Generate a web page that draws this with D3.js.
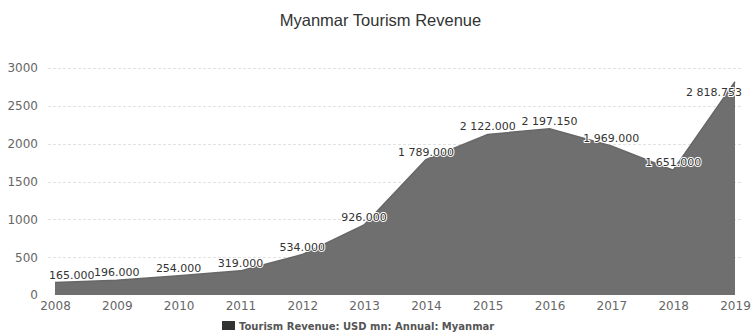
<!DOCTYPE html>
<html>
<head>
<meta charset="utf-8">
<script src="https://cdn.jsdelivr.net/npm/d3@7/dist/d3.min.js"></script>
<style>
  html, body { margin: 0; padding: 0; background: #fff; }
  svg { display: block; }
</style>
</head>
<body>
<svg id="chart" width="751" height="336"></svg>
<script>
// Myanmar tourism revenue, USD mn, annual
const years = [2008, 2009, 2010, 2011, 2012, 2013, 2014, 2015, 2016, 2017, 2018, 2019];
const revenue = [165, 196, 254, 319, 534, 926, 1789, 2122, 2197.15, 1969, 1651, 2818.753];
const yTicks = [0, 500, 1000, 1500, 2000, 2500, 3000];
const titleText = "Myanmar Tourism Revenue";
const seriesName = "Tourism Revenue: USD mn: Annual: Myanmar";

const svg = d3.select("#chart");
const plot = { left: 48, right: 742, top: 68, bottom: 295 };

const x = d3.scaleLinear().domain([years[0], years[years.length - 1]]).range([55, 735]);
const y = d3.scaleLinear().domain([0, 3000]).range([plot.bottom, plot.top]);

const fontLabel = "'DejaVu Sans', Verdana, sans-serif";

// Title
svg.append("text")
  .attr("x", 380.5).attr("y", 26)
  .attr("text-anchor", "middle")
  .attr("font-family", "'Liberation Sans', Arial, sans-serif")
  .attr("font-size", 16.5)
  .attr("fill", "#333")
  .text(titleText);

// Horizontal grid lines
svg.append("g")
  .selectAll("line")
  .data(yTicks.filter(t => t > 0))
  .join("line")
  .attr("x1", plot.left).attr("x2", plot.right)
  .attr("y1", d => Math.round(y(d)) + 0.5).attr("y2", d => Math.round(y(d)) + 0.5)
  .attr("stroke", "#e2e2e2")
  .attr("stroke-dasharray", "3,2")
  .attr("stroke-width", 1);

// Y axis labels
const yAxis = d3.axisLeft(y).tickValues(yTicks).tickFormat(d3.format("d")).tickSize(0).tickPadding(0);
const gy = svg.append("g").attr("transform", "translate(38,0)").call(yAxis);
gy.select(".domain").remove();
gy.selectAll("text")
  .attr("font-family", fontLabel)
  .attr("font-size", 12)
  .attr("fill", "#666");

// X axis labels
const xAxis = d3.axisBottom(x).tickValues(years).tickFormat(d3.format("d")).tickSize(0).tickPadding(0);
const gx = svg.append("g").attr("transform", "translate(0,301)").call(xAxis);
gx.select(".domain").remove();
gx.selectAll("text")
  .attr("font-family", fontLabel)
  .attr("font-size", 12)
  .attr("fill", "#666");

// Area series
const points = years.map((yr, i) => ({ year: yr, value: revenue[i] }));
const area = d3.area()
  .x(d => x(d.year))
  .y0(y(0))
  .y1(d => y(d.value));
const line = d3.line()
  .x(d => x(d.year))
  .y(d => y(d.value));

svg.append("path")
  .datum(points)
  .attr("d", area)
  .attr("fill", "#6f6f6f");
svg.append("path")
  .datum(points)
  .attr("d", line)
  .attr("fill", "none")
  .attr("stroke", "#676767")
  .attr("stroke-width", 1.5);

// Data labels: "2 818.753" style number formatting with space thousands separator
const fmt = d3.formatLocale({ decimal: ".", thousands: " ", grouping: [3], currency: ["", ""] }).format(",.3f");

const labels = svg.append("g");
points.forEach(p => {
  const px = x(p.year), py = y(p.value);
  const t = labels.append("text")
    .attr("font-family", fontLabel)
    .attr("font-size", 11)
    .attr("fill", "#333")
    .attr("stroke", "#fff")
    .attr("stroke-width", 2)
    .attr("stroke-linejoin", "round")
    .attr("paint-order", "stroke")
    .attr("text-anchor", "start")
    .text(fmt(p.value));
  const w = t.node().getComputedTextLength();
  let lx = px - w / 2;
  let ly = py - 4;
  if (lx < plot.left) lx = plot.left + 1;
  if (lx + w > plot.right) {
    lx = plot.right - w;
    ly = py + 14;
  }
  t.attr("x", lx).attr("y", ly);
});

// Legend
const legend = svg.append("g");
legend.append("rect")
  .attr("x", 222).attr("y", 321)
  .attr("width", 13).attr("height", 9)
  .attr("fill", "#333");
legend.append("text")
  .attr("x", 239).attr("y", 329.5)
  .attr("font-family", fontLabel)
  .attr("font-size", 10)
  .attr("font-weight", "bold")
  .attr("fill", "#555")
  .text(seriesName);
</script>
</body>
</html>
